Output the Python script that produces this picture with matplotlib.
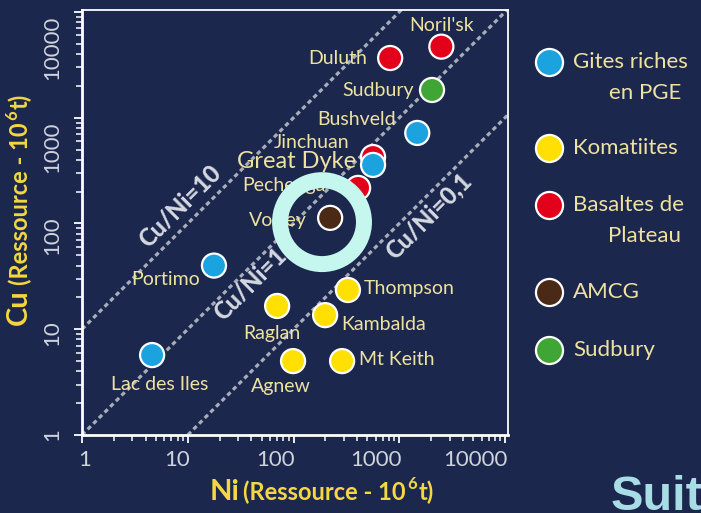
import matplotlib
matplotlib.use('Agg')
import matplotlib.pyplot as plt
from matplotlib.transforms import ScaledTranslation

# gisements : Ni et Cu (ressource, 10^6 t)
noms = ["Noril'sk", 'Duluth', 'Sudbury', 'Bushveld', 'Jinchuan', 'Great Dyke', 'Pechenga',
        'Voisey', 'Portimo', 'Lac des Iles', 'Thompson', 'Kambalda', 'Raglan', 'Mt Keith', 'Agnew']
ni = [2500, 820, 2040, 1480, 565, 565, 408, 222, 17.7, 4.6, 327, 199, 70, 288, 99]
cu = [4700, 3670, 1830, 718, 425, 358, 217, 113, 40, 5.7, 23.5, 13.6, 16.6, 5.0, 5.0]
types = ['Basaltes', 'Basaltes', 'Sudbury', 'PGE', 'Basaltes', 'PGE', 'Basaltes',
         'AMCG', 'PGE', 'PGE', 'Komatiites', 'Komatiites', 'Komatiites', 'Komatiites', 'Komatiites']

# legende
leg_types = ['PGE', 'Komatiites', 'Basaltes', 'AMCG', 'Sudbury']
leg_l1 = ['Gites riches', 'Komatiites', 'Basaltes de', 'AMCG', 'Sudbury']
leg_l2 = ['en PGE', '', 'Plateau', '', '']
couleurs = {'PGE': '#1ba3e0', 'Komatiites': '#ffe000', 'Basaltes': '#e3001b',
            'AMCG': '#4a2a17', 'Sudbury': '#3fa535'}

# droites Cu/Ni
rapports = [10, 1, 0.1]
rapports_txt = ['Cu/Ni=10', 'Cu/Ni=1', 'Cu/Ni=0,1']

xticks = [1, 10, 100, 1000, 10000]
xtick_labels = ['1', '10', '100', '1000', '10000']

# cercle de mise en evidence (AMCG)
cercle = (186, 103)

fond = '#1c274d'
jaune_txt = '#eee2a0'
gris_txt = '#cfd3dc'

plt.rcParams['font.family'] = ['Lato', 'DejaVu Sans']

fig = plt.figure(figsize=(7.01, 5.13), dpi=100, facecolor=fond)
W, H = 701, 513
ax = fig.add_axes([82 / W, (H - 435) / H, 426 / W, 425 / H], facecolor=fond)
ax.set_xscale('log')
ax.set_yscale('log')
ax.set_xlim(1, 10670)
ax.set_ylim(1, 10440)

# droites Cu/Ni
xl = [1, 20000]
for r in rapports:
    ax.plot(xl, [r * v for v in xl], color='#a7adb9', lw=2.3, ls=(0, (1.4, 1.1)),
            dash_capstyle='butt', zorder=1)

# etiquettes des droites
pos_txt = [(8.45, 0, 25), (38.8, 0, -17), (1871, 0, -21)]
for r, t, (xa, dx, dy) in zip(rapports, rapports_txt, pos_txt):
    ax.annotate(t, (xa, r * xa), xytext=(dx, dy), textcoords='offset pixels',
                rotation=45, rotation_mode='anchor', ha='center', va='center',
                fontsize=17, fontweight='black', color='#d5d9e2', zorder=2)

# points
ax.scatter(ni, cu, s=300, c=[couleurs[t] for t in types], edgecolors='white',
           linewidths=1.6, zorder=3)

# noms des gisements
decal = [(0, 21), (-52, 0), (-54, -1), (-61, 13), (-62, 15), (-76, 3), (-74, 2),
         (-52, -3), (-48, -14), (8, -29), (61, 2), (59, -9), (-5, -28), (55, 2), (-12, -25)]
for n, x, y, (dx, dy) in zip(noms, ni, cu, decal):
    ax.annotate(n, (x, y), xytext=(dx, dy), textcoords='offset pixels',
                ha='center', va='center', color=jaune_txt,
                fontsize=17 if n == 'Great Dyke' else 14, zorder=4)

# cercle cyan
ax.scatter([cercle[0]], [cercle[1]], s=3650, facecolors='none', edgecolors='#c6f7ef',
           linewidths=11.5, zorder=6)

# axes
for s in ax.spines.values():
    s.set_color('white')
    s.set_linewidth(1.3)
ax.spines['left'].set_linewidth(2)
ax.spines['bottom'].set_linewidth(2)
ax.set_xticks(xticks, xtick_labels)
ax.set_yticks(xticks, xtick_labels)
ax.tick_params(which='major', length=6, width=1.3, color='white', labelcolor=gris_txt,
               labelsize=16)
ax.tick_params(which='minor', length=4, width=1.1, color='white')
ax.tick_params(axis='x', pad=5)
ax.tick_params(axis='y', pad=8, labelrotation=90)

fig.canvas.draw()
dx_lab = [3, -11, -18, -23, -30]
dy_lab = [0, -4, -12, -30, -36]
for t, d in zip(ax.xaxis.get_major_ticks(), dx_lab):
    t.label1.set_transform(t.label1.get_transform() + ScaledTranslation(d / 100, 0, fig.dpi_scale_trans))
for t, d in zip(ax.yaxis.get_major_ticks(), dy_lab):
    t.label1.set_va('center')
    t.label1.set_transform(t.label1.get_transform() + ScaledTranslation(0, d / 100, fig.dpi_scale_trans))

# titres des axes
jaune = '#f5d742'
fig.text(210 / W, 1 - 500 / H, 'Ni', fontsize=21, fontweight='bold', color=jaune,
         va='baseline', ha='left')
t2 = fig.text(243 / W, 1 - 500 / H, '(Ressource - 10', fontsize=17, fontweight='bold',
              color=jaune, va='baseline', ha='left')
ax.annotate('6', xy=(1, 0), xycoords=t2, xytext=(2, 12), textcoords='offset pixels',
            fontsize=12, fontweight='bold', color=jaune, va='bottom', ha='left')
ax.annotate('t)', xy=(1, 0), xycoords=t2, xytext=(13, 0), textcoords='offset pixels',
            fontsize=17, fontweight='bold', color=jaune, va='bottom', ha='left')

fig.text(32 / W, 1 - 325 / H, 'Cu', fontsize=21, fontweight='bold', color=jaune,
         rotation=90, va='bottom', ha='right')
c2 = fig.text(32 / W, 1 - 285 / H, '(Ressource - 10', fontsize=17, fontweight='bold',
              color=jaune, rotation=90, va='bottom', ha='right')
ax.annotate('6', xy=(1, 1), xycoords=c2, xytext=(-12, 2), textcoords='offset pixels',
            fontsize=12, fontweight='bold', color=jaune, rotation=90, va='bottom', ha='right')
ax.annotate('t)', xy=(1, 1), xycoords=c2, xytext=(0, 13), textcoords='offset pixels',
            fontsize=17, fontweight='bold', color=jaune, rotation=90, va='bottom', ha='right')

# legende manuelle
leg_y = [62, 148, 205, 292, 350]
for t, l1, l2, y in zip(leg_types, leg_l1, leg_l2, leg_y):
    ax.scatter([549 / W], [1 - y / H], s=380, c=couleurs[t], edgecolors='white',
               linewidths=1.6, transform=fig.transFigure, clip_on=False, zorder=5)
    fig.text(573 / W, 1 - y / H, l1, fontsize=16, color=jaune_txt, va='center', ha='left')
    if l2:
        fig.text(681 / W, 1 - (y + 31) / H, l2, fontsize=16, color=jaune_txt,
                 va='center', ha='right')

fig.text(611 / W, 1 - 510 / H, 'Suit', fontsize=35, fontweight='bold', color='#a9dde6',
         family='Liberation Sans', va='baseline', ha='left')

fig.savefig('out.png', dpi=100, facecolor=fond)
